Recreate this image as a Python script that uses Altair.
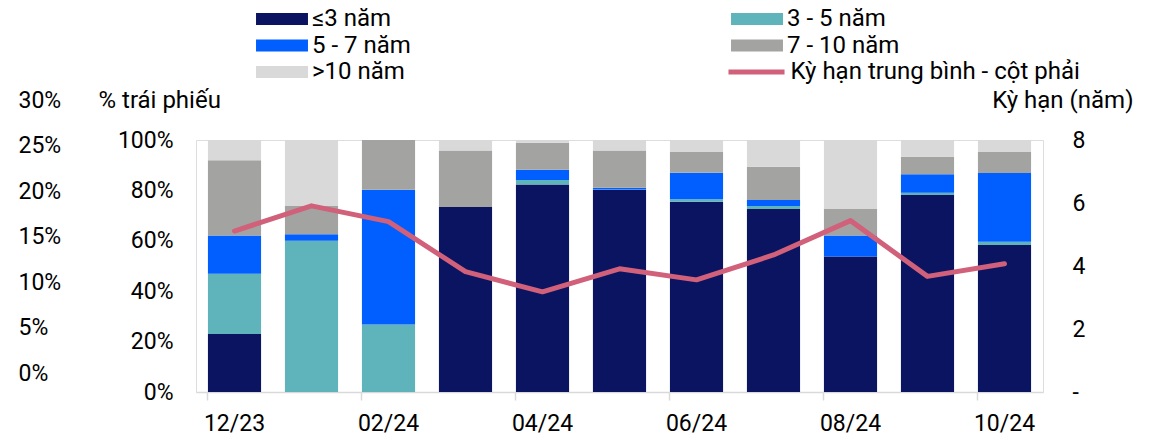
import altair as alt
import pandas as pd

months = ["12/23", "01/24", "02/24", "03/24", "04/24", "05/24",
          "06/24", "07/24", "08/24", "09/24", "10/24"]
x_tick_labels = ["12/23", "02/24", "04/24", "06/24", "08/24", "10/24"]

series_names = ["≤3 năm", "3 - 5 năm", "5 - 7 năm", "7 - 10 năm", ">10 năm"]
le3 = [23.0, 0.0, 0.0, 73.4, 82.3, 80.3, 75.5, 72.6, 53.8, 78.2, 58.3]
y3_5 = [23.9, 60.0, 26.8, 0.0, 1.8, 0.1, 1.0, 1.2, 0.0, 0.9, 1.3]
y5_7 = [15.2, 2.6, 53.5, 0.0, 4.1, 0.7, 10.5, 2.4, 8.3, 7.3, 27.3]
y7_10 = [29.9, 11.2, 19.7, 22.4, 10.7, 14.7, 8.2, 13.2, 10.5, 7.0, 8.3]
gt10 = [8.0, 26.2, 0.0, 4.2, 1.1, 4.2, 4.8, 10.6, 27.4, 6.6, 4.8]

line_name = "Kỳ hạn trung bình - cột phải"
avg_maturity = [5.11, 5.91, 5.41, 3.82, 3.18, 3.91, 3.56, 4.35, 5.44, 3.67, 4.07]

left_ticks = [0, 0.2, 0.4, 0.6, 0.8, 1.0]
right_ticks = [0, 2, 4, 6, 8]
stray_ticks = [0, 0.05, 0.10, 0.15, 0.20, 0.25, 0.30]

bar_colors = ["#0b1461", "#5fb4bc", "#005ffe", "#a3a4a2", "#d9d9d9"]
line_color = "#d1607a"

# legend lays out column by column: reorder so rows read ≤3 | 3-5, 5-7 | 7-10, >10
legend_order = [0, 2, 4, 1, 3]
legend_domain = [series_names[i] for i in legend_order]
legend_range = [bar_colors[i] for i in legend_order]

rows = []
for si, (name, vals) in enumerate(zip(series_names, [le3, y3_5, y5_7, y7_10, gt10])):
    for m, v in zip(months, vals):
        rows.append({"month": m, "series": name, "ord": si, "value": v / 100.0})
bars_df = pd.DataFrame(rows)
line_df = pd.DataFrame({"month": months, "years": avg_maturity,
                        "lseries": [line_name] * len(months)})
stray_df = pd.DataFrame({"v": stray_ticks})

W, H = 847, 252
FS = 23
LFS = 24
TXT = "#000000"

x_enc = alt.X(
    "month:N", sort=months, title=None,
    scale=alt.Scale(domain=months, paddingInner=0.31, paddingOuter=0.155),
    axis=alt.Axis(values=x_tick_labels, bandPosition=0,
                  labelAngle=0, ticks=True, tickSize=8, tickColor="#d9d9d9",
                  tickWidth=1.5, domainColor="#d9d9d9", domainWidth=1.5,
                  labelFontSize=FS, labelPadding=12, labelColor=TXT, grid=False),
)

bars = alt.Chart(bars_df).mark_bar().encode(
    x=x_enc,
    y=alt.Y("value:Q", stack="zero",
            scale=alt.Scale(domain=[0, 1], nice=False),
            axis=alt.Axis(orient="left", values=left_ticks, format=".0%",
                          ticks=False, domain=False, grid=False,
                          labelPadding=23, labelFontSize=FS, labelColor=TXT,
                          title="% trái phiếu", titleAngle=0, titleAlign="left",
                          titleBaseline="middle", titleX=-98, titleY=-40,
                          titleFontSize=LFS, titleFontWeight="normal",
                          titleColor=TXT)),
    color=alt.Color("series:N",
                    scale=alt.Scale(domain=legend_domain, range=legend_range),
                    legend=alt.Legend(title=None, orient="none", legendX=74,
                                      legendY=-133, columns=2,
                                      symbolType="M-4.33,-1H4.33V1H-4.33Z",
                                      symbolSize=144, symbolStrokeWidth=0,
                                      labelOffset=18, labelFontSize=LFS,
                                      labelColor=TXT, rowPadding=2.5,
                                      columnPadding=320, padding=0,
                                      labelLimit=400)),
    order=alt.Order("ord:Q", sort="ascending"),
)

line = alt.Chart(line_df).mark_line(strokeWidth=5, strokeCap="round",
                                    strokeJoin="round").encode(
    x=x_enc,
    y=alt.Y("years:Q", scale=alt.Scale(domain=[0, 8], nice=False),
            axis=alt.Axis(orient="right", values=right_ticks,
                          labelExpr="datum.value == 0 ? '-' : datum.label",
                          ticks=False, domain=False, grid=False,
                          labelPadding=29, labelFontSize=FS, labelColor=TXT,
                          title="Kỳ hạn (năm)", titleAngle=0, titleAlign="right",
                          titleBaseline="middle", titleX=90, titleY=-40,
                          titleFontSize=LFS, titleFontWeight="normal",
                          titleColor=TXT)),
    color=alt.Color("lseries:N", scale=alt.Scale(domain=[line_name], range=[line_color]),
                    legend=alt.Legend(title=None, orient="none", legendX=548.5,
                                      legendY=-80,
                                      symbolType="M-4.67,0H4.67",
                                      symbolSize=144, symbolStrokeWidth=5,
                                      labelOffset=22, labelFontSize=LFS,
                                      labelColor=TXT, padding=0, labelLimit=400)),
)

stray = alt.Chart(stray_df).mark_point(opacity=0).encode(
    y=alt.Y("v:Q", scale=alt.Scale(domain=[0, 0.3], range=[233, -40], nice=False, zero=False),
            axis=alt.Axis(orient="left", offset=178, values=stray_ticks, format=".0%",
                          labelAlign="left", labelPadding=0, ticks=False,
                          domain=False, grid=False, labelFontSize=FS,
                          labelColor=TXT, title=None, labelOverlap=False)),
)

chart = alt.layer(bars, line, stray).resolve_scale(
    y="independent", color="independent"
).properties(
    width=W, height=H,
    autosize=alt.AutoSizeParams(type="none"),
    padding={"left": 188, "top": 132, "right": 100, "bottom": 45},
).configure_view(stroke=None).configure(font="Roboto", background="white")

chart.save("out.html", embed_options={"renderer": "svg", "actions": False})
